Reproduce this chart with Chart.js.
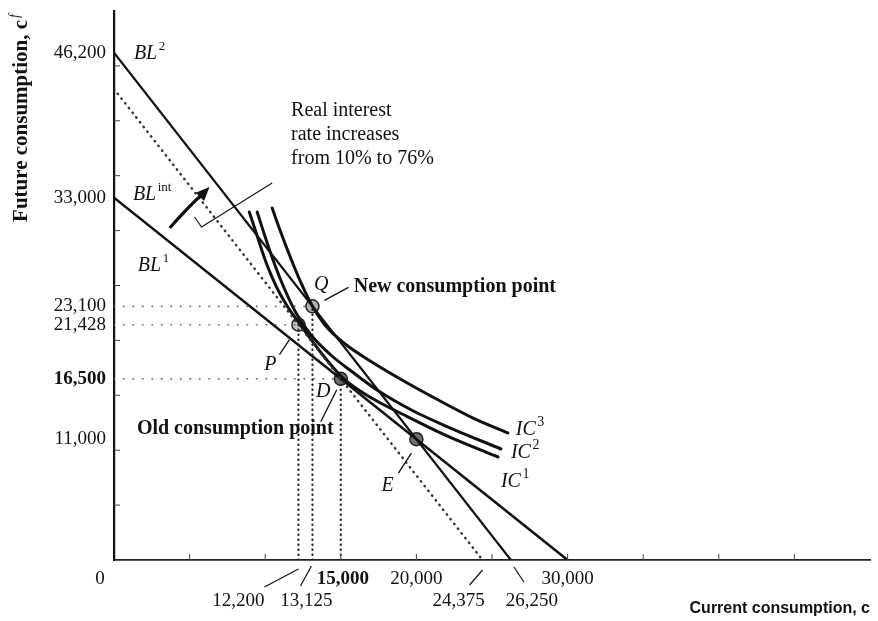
<!DOCTYPE html>
<html><head><meta charset="utf-8">
<script src="https://cdn.jsdelivr.net/npm/chart.js@4.4.0/dist/chart.umd.min.js"></script>
<style>html,body{margin:0;padding:0;background:#fff;}#wrap{width:878px;height:621px;}</style>
</head><body><div id="wrap"><canvas id="c" width="878" height="621"></canvas></div>
<script>
// ---- data ----
const bl1C = [0, 30000],  bl1F = [33000, 0];
const bl2C = [0, 26250],  bl2F = [46200, 0];
const blIntC = [0, 24375], blIntF = [42900, 0];
const ic1C = [8950, 9470, 10070, 10720, 11450, 12240, 13160, 14080, 15000, 16180, 17500, 19470, 21910, 25400];
const ic1F = [31700, 29510, 27050, 24950, 23130, 21590, 19850, 18220, 16760, 15480, 14390, 13020, 11380, 9380];
const ic2C = [9470, 10000, 10590, 11250, 12040, 13030, 14340, 15860, 17500, 19800, 22100, 25590];
const ic2F = [31690, 29420, 27050, 24770, 22500, 20490, 18670, 17030, 15390, 13570, 12110, 10110];
const ic3C = [10460, 11050, 11710, 12370, 13125, 13950, 15200, 16840, 18820, 21450, 23750, 26050];
const ic3F = [32060, 29780, 27410, 25230, 23100, 21400, 19760, 18220, 16580, 14570, 12930, 11570];
const pointNames = ['P', 'Q', 'D', 'E'];
const pointC = [12200, 13125, 15000, 20000];
const pointF = [21428, 23100, 16500, 11000];
const dropPoints = ['P', 'Q', 'D'];
const yTicks = [11000, 16500, 21428, 23100, 33000, 46200];
const xTicksRow1 = [0, 15000, 20000, 30000];
const xTicksRow2 = [12200, 13125, 24375, 26250];
const boldTicks = [15000, 16500];
const axisMax = 50000, minorStep = 5000;

// ---- styles ----
const INK = '#111';
const SERIF = '"Liberation Serif", "DejaVu Serif", serif';
const pointFill = {P: '#c4c4c4', Q: '#b0b0b0', D: '#6e6e6e', E: '#707070'};

const pts = (cs, fs) => cs.map((c, i) => ({x: c, y: fs[i]}));
const fmt = v => v.toLocaleString('en-US');
const idx = n => pointNames.indexOf(n);

const datasets = [];
dropPoints.forEach(n => {
  const i = idx(n);
  datasets.push({data: [{x: pointC[i], y: 0}, {x: pointC[i], y: pointF[i]}], borderColor: '#222', borderWidth: 2.2, borderDash: [0.5, 4.5], borderCapStyle: 'round', pointRadius: 0});
  datasets.push({data: [{x: 0, y: pointF[i]}, {x: pointC[i], y: pointF[i]}], borderColor: '#666', borderWidth: 1.6, borderDash: [0.5, 9], borderCapStyle: 'round', pointRadius: 0});
});
datasets.push({data: pts(blIntC, blIntF), borderColor: '#333', borderWidth: 2.4, borderDash: [0.5, 5.5], borderCapStyle: 'round', pointRadius: 0});
datasets.push({data: pts(bl1C, bl1F), borderColor: INK, borderWidth: 2.6, pointRadius: 0});
datasets.push({data: pts(bl2C, bl2F), borderColor: INK, borderWidth: 2.2, pointRadius: 0});
[[ic1C, ic1F], [ic2C, ic2F], [ic3C, ic3F]].forEach(([c, f]) => datasets.push({data: pts(c, f), borderColor: INK, borderWidth: 3, cubicInterpolationMode: 'monotone', borderCapStyle: 'round', pointRadius: 0}));
datasets.push({data: pts(pointC, pointF), showLine: false, pointRadius: 6.5, pointBorderWidth: 1.5, pointBorderColor: '#222', pointBackgroundColor: pointNames.map(n => pointFill[n])});

function sup(ctx, base, s, x, y, bf, sf, rise) {
  ctx.font = bf; ctx.fillText(base, x, y);
  const w = ctx.measureText(base).width;
  ctx.font = sf; ctx.fillText(s, x + w + 1.5, y - rise);
}

const decor = {
  id: 'decor',
  afterDraw(chart) {
    const {ctx, scales: {x, y}} = chart;
    const X = v => x.getPixelForValue(v), Y = v => y.getPixelForValue(v);
    ctx.save();
    // inward minor tick marks
    ctx.strokeStyle = '#444'; ctx.lineWidth = 1;
    for (let v = minorStep; v < axisMax; v += minorStep) {
      ctx.beginPath(); ctx.moveTo(X(v), Y(0)); ctx.lineTo(X(v), Y(0) - 6); ctx.stroke();
      ctx.beginPath(); ctx.moveTo(X(0), Y(v)); ctx.lineTo(X(0) + 6, Y(v)); ctx.stroke();
    }
    ctx.fillStyle = INK; ctx.strokeStyle = INK;
    // x tick labels
    ctx.textBaseline = 'middle'; ctx.textAlign = 'center';
    const row1Off = {0: -14, 15000: 2, 20000: 0, 30000: 0};
    xTicksRow1.forEach(v => {
      ctx.font = (boldTicks.includes(v) ? 'bold ' : '') + '19px ' + SERIF;
      ctx.fillText(fmt(v), X(v) + row1Off[v], 579);
    });
    const row2 = {12200: [-60, [-34, 27], [0, 9]], 13125: [-6, [-12, 26], [-1, 6]], 24375: [-24, [-13, 25], [0, 10]], 26250: [21, [3, 7], [13, 22]]};
    ctx.font = '19px ' + SERIF;
    xTicksRow2.forEach(v => {
      const [o, a, b] = row2[v];
      ctx.fillText(fmt(v), X(v) + o, 601);
      ctx.lineWidth = 1.2; ctx.beginPath();
      ctx.moveTo(X(v) + a[0], Y(0) + a[1]); ctx.lineTo(X(v) + b[0], Y(0) + b[1]); ctx.stroke();
    });
    // y axis title (rotated, top aligned)
    ctx.save();
    ctx.translate(22, Y(axisMax) + 2); ctx.rotate(-Math.PI / 2);
    ctx.textAlign = 'left'; ctx.textBaseline = 'middle';
    ctx.font = 'bold 21px ' + SERIF;
    const ft = 'Future consumption, c';
    const fw = ctx.measureText(ft).width;
    ctx.font = 'italic 14px ' + SERIF;
    const sw = ctx.measureText('f').width;
    const start = -(fw + sw + 3);
    ctx.font = 'bold 21px ' + SERIF; ctx.fillText(ft, start, 0);
    ctx.font = 'italic 14px ' + SERIF; ctx.fillText('f', start + fw + 2, -7);
    ctx.restore();
    // text annotations
    ctx.textAlign = 'left'; ctx.textBaseline = 'alphabetic';
    const it = 'italic 20px ' + SERIF;
    sup(ctx, 'BL', '2', X(1316), Y(45628), it, '13px ' + SERIF, 9);
    sup(ctx, 'BL', 'int', X(1250), Y(32787), it, '13px ' + SERIF, 9);
    sup(ctx, 'BL', '1', X(1579), Y(26321), it, '13px ' + SERIF, 9);
    sup(ctx, 'IC', '3', X(26579), Y(11384), it, '14px ' + SERIF, 9);
    sup(ctx, 'IC', '2', X(26250), Y(9290), it, '14px ' + SERIF, 9);
    sup(ctx, 'IC', '1', X(25592), Y(6648), it, '14px ' + SERIF, 9);
    ctx.font = '20px ' + SERIF;
    ['Real interest', 'rate increases', 'from 10% to 76%'].forEach((t, k) => ctx.fillText(t, X(11711), Y(40437) + k * 24));
    ctx.font = 'bold 20px ' + SERIF;
    ctx.fillText('New consumption point', X(15855), Y(24408));
    ctx.fillText('Old consumption point', X(1513), Y(11476));
    ctx.font = it;
    ctx.fillText('Q', X(13224), Y(24590));
    ctx.fillText('P', X(9934), Y(17304));
    ctx.fillText('D', X(13355), Y(14845));
    ctx.fillText('E', X(17697), Y(6284));
    // leader lines relative to the points
    const leaders = {Q: [[12, -6], [36, -19]], P: [[-19, 30], [-9, 15]], D: [[-20, 43], [-4, 11]], E: [[-18, 34], [-5, 14]]};
    ctx.lineWidth = 1.3;
    pointNames.forEach((n, i) => {
      const px = X(pointC[i]), py = Y(pointF[i]); const [a, b] = leaders[n];
      ctx.beginPath(); ctx.moveTo(px + a[0], py + a[1]); ctx.lineTo(px + b[0], py + b[1]); ctx.stroke();
    });
    // bracket pointer
    ctx.lineWidth = 1.1;
    ctx.beginPath(); ctx.moveTo(X(5329), Y(31239)); ctx.lineTo(X(5789), Y(30328)); ctx.lineTo(X(10461), Y(34335)); ctx.stroke();
    // arrow
    const ax0 = X(3684), ay0 = Y(30237), ax1 = X(6316), ay1 = Y(33971);
    ctx.lineWidth = 3.2;
    ctx.beginPath(); ctx.moveTo(ax0, ay0); ctx.quadraticCurveTo((ax0 + ax1) / 2 - 1, (ay0 + ay1) / 2 - 1, ax1 - 6, ay1 + 6); ctx.stroke();
    const ang = Math.atan2(ay1 - ay0, ax1 - ax0);
    ctx.beginPath(); ctx.moveTo(ax1, ay1);
    ctx.lineTo(ax1 - 15 * Math.cos(ang - 0.4), ay1 - 15 * Math.sin(ang - 0.4));
    ctx.lineTo(ax1 - 15 * Math.cos(ang + 0.4), ay1 - 15 * Math.sin(ang + 0.4));
    ctx.closePath(); ctx.fill();
    ctx.restore();
  }
};

new Chart(document.getElementById('c'), {
  type: 'line',
  data: {datasets},
  options: {
    responsive: false, animation: false, parsing: false,
    layout: {padding: {top: 11, right: 4, left: 0, bottom: 0}},
    plugins: {legend: {display: false}, tooltip: {enabled: false}},
    scales: {
      x: {type: 'linear', min: 0, max: axisMax,
        grid: {display: false, drawTicks: false},
        border: {color: '#222', width: 1.8},
        ticks: {display: false},
        title: {display: true, text: 'Current consumption, c', align: 'end', color: INK,
          font: {family: '"Liberation Sans", Arial, sans-serif', size: 16, weight: 'bold'}, padding: {top: 0, bottom: 3}},
        afterFit(s) { s.height = 61; s.paddingLeft = 0; s.paddingRight = 0; }},
      y: {type: 'linear', min: 0, max: axisMax,
        grid: {display: false, drawTicks: false},
        border: {color: '#111', width: 2.2},
        afterBuildTicks(s) { s.ticks = yTicks.map(v => ({value: v})); },
        ticks: {autoSkip: false, padding: 8, color: INK,
          font: c => ({family: SERIF, size: 19, weight: (c.tick && boldTicks.includes(c.tick.value)) ? 'bold' : 'normal'}),
          callback: v => fmt(v)},
        afterFit(s) { s.width = 114; s.paddingTop = 0; s.paddingBottom = 0; }}
    }
  },
  plugins: [decor]
});
</script></body></html>
